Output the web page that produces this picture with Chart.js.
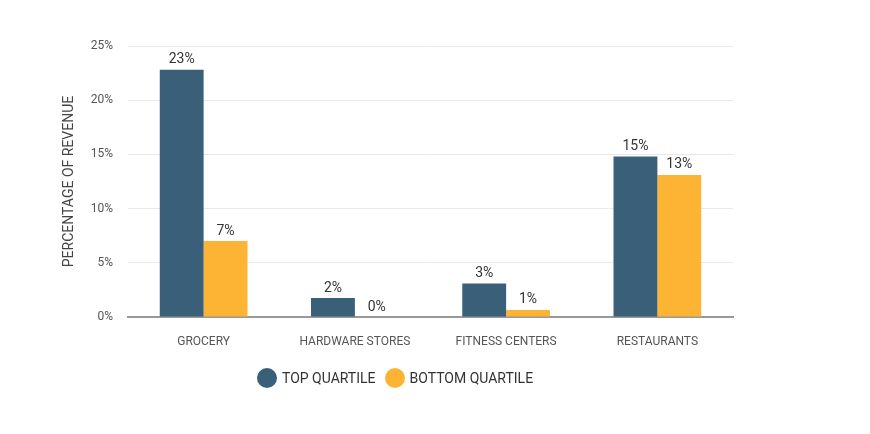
<!DOCTYPE html>
<html>
<head>
<meta charset="utf-8">
<script src="https://cdn.jsdelivr.net/npm/chart.js@4/dist/chart.umd.min.js"></script>
<style>
  body { margin: 0; background: #fff; }
  #wrap { position: relative; width: 870px; height: 434px; }
  #legend {
    position: absolute; top: 368px; left: 257px;
    display: flex; align-items: center;
    font-family: "Roboto", sans-serif;
    font-size: 14px; color: #333;
  }
  #legend span.dot { width: 20px; height: 20px; border-radius: 50%; display: inline-block; }
  #legend span.txt { margin-left: 5px; margin-right: 9px; }
</style>
</head>
<body>
<div id="wrap">
  <canvas id="chart" width="870" height="434"></canvas>
  <div id="legend"></div>
</div>
<script>
const categories = ["GROCERY", "HARDWARE STORES", "FITNESS CENTERS", "RESTAURANTS"];
const topQuartile = [22.8, 1.75, 3.1, 14.8];
const bottomQuartile = [7.0, 0, 0.65, 13.1];
const yTicks = [0, 5, 10, 15, 20, 25];
const seriesNames = ["TOP QUARTILE", "BOTTOM QUARTILE"];
const colors = ["#3a5f78", "#fdb434"];

/* value labels above bars */
const valueLabels = {
  id: "valueLabels",
  afterDatasetsDraw(chart) {
    const ctx = chart.ctx;
    ctx.save();
    ctx.font = "14px Roboto";
    ctx.fillStyle = "#333";
    ctx.textAlign = "center";
    ctx.textBaseline = "bottom";
    chart.data.datasets.forEach((ds, i) => {
      chart.getDatasetMeta(i).data.forEach((bar, j) => {
        ctx.fillText(Math.round(ds.data[j]) + "%", bar.x, bar.y - 3);
      });
    });
    ctx.restore();
  }
};

const chart = new Chart(document.getElementById("chart").getContext("2d"), {
  type: "bar",
  data: {
    labels: categories,
    datasets: [
      { label: seriesNames[0], data: topQuartile, backgroundColor: colors[0] },
      { label: seriesNames[1], data: bottomQuartile, backgroundColor: colors[1] }
    ]
  },
  options: {
    responsive: false,
    animation: false,
    layout: { padding: { left: 53, right: 137, top: 46, bottom: 0 } },
    datasets: { bar: { categoryPercentage: 0.58, barPercentage: 1 } },
    plugins: { legend: { display: false }, tooltip: { enabled: false } },
    scales: {
      x: {
        grid: { display: false },
        border: { color: "#999", width: 2 },
        ticks: { color: "#555", font: { family: "Roboto", size: 12 }, padding: 10, maxRotation: 0 },
        afterFit: s => { s.height = 117; }
      },
      y: {
        min: 0, max: 25,
        afterBuildTicks: s => { s.ticks = yTicks.map(v => ({ value: v })); },
        grid: { color: "#e8e8e8", drawTicks: false },
        border: { display: false },
        ticks: { color: "#555", font: { family: "Roboto", size: 12 }, padding: 15, callback: v => v + "%" },
        title: {
          display: true, text: "PERCENTAGE OF REVENUE", color: "#444",
          font: { family: "Roboto", size: 14 }, padding: { top: 8, bottom: 0 }
        },
        afterFit: s => { s.width = 75; }
      }
    }
  },
  plugins: [valueLabels]
});

/* legend */
document.getElementById("legend").innerHTML = seriesNames.map((n, i) =>
  `<span class="dot" style="background:${colors[i]}"></span><span class="txt">${n}</span>`
).join("");
</script>
</body>
</html>
